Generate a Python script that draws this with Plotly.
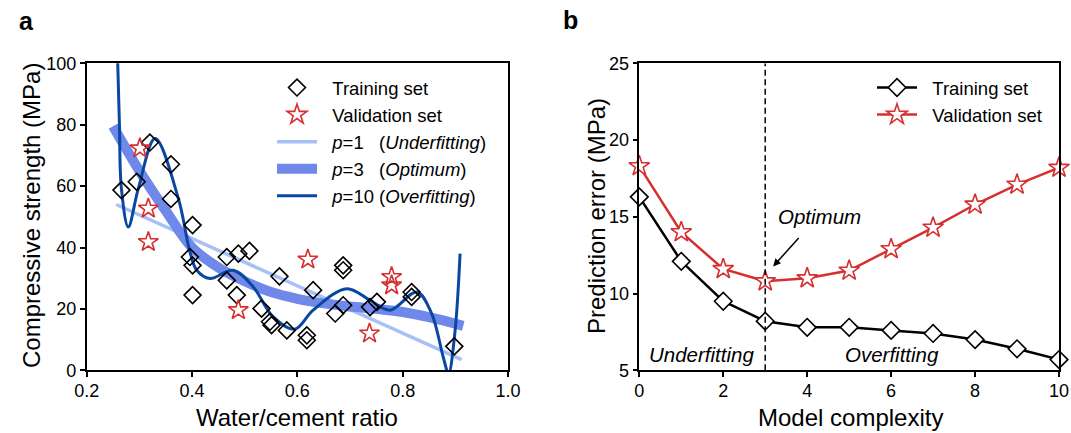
import plotly.graph_objects as go

# ---------------- Panel a data ----------------
train_x = [0.266, 0.295, 0.320, 0.360, 0.360, 0.401, 0.396, 0.401, 0.401, 0.466,
           0.488, 0.509, 0.466, 0.485, 0.532, 0.548, 0.551, 0.580, 0.566, 0.618,
           0.618, 0.630, 0.672, 0.687, 0.687, 0.687, 0.751, 0.738, 0.817, 0.817, 0.898]
train_y = [58.7, 61.4, 74.2, 67.1, 55.8, 47.3, 36.9, 34.2, 24.5, 36.9,
           38.0, 38.9, 29.3, 24.5, 20.1, 15.8, 14.7, 13.0, 30.6, 11.4,
           9.8, 26.1, 18.5, 21.2, 34.2, 32.6, 22.3, 20.6, 25.5, 23.9, 7.8]

val_x = [0.301, 0.317, 0.317, 0.488, 0.620, 0.779, 0.779, 0.737]
val_y = [72.3, 52.7, 41.8, 19.6, 36.1, 30.4, 27.7, 12.0]

p1_x = [0.256, 0.912]
p1_y = [54.0, 3.5]

p3_x = [0.25, 0.30, 0.35, 0.40, 0.45, 0.50, 0.55, 0.60, 0.65, 0.70, 0.75, 0.80, 0.85, 0.915]
p3_y = [79.5, 65.0, 52.0, 40.0, 33.5, 29.0, 25.5, 23.3, 21.8, 20.8, 20.0, 19.0, 17.3, 14.5]

p10_x = [0.257, 0.262, 0.266, 0.279, 0.298, 0.330, 0.374, 0.396, 0.409, 0.434,
         0.478, 0.516, 0.554, 0.595, 0.630, 0.694, 0.738, 0.776, 0.827, 0.855,
         0.877, 0.887, 0.899, 0.909]
p10_y = [112.0, 81.0, 59.0, 46.7, 59.2, 75.5, 56.0, 38.6, 32.6, 29.9,
         32.6, 27.2, 17.4, 13.4, 19.6, 26.6, 22.8, 19.6, 25.5, 18.5,
         4.3, -1.0, 12.0, 38.0]

# ---------------- Panel b data ----------------
complexity = [0, 1, 2, 3, 4, 5, 6, 7, 8, 9, 10]
train_err = [16.3, 12.1, 9.5, 8.2, 7.8, 7.8, 7.6, 7.4, 7.0, 6.4, 5.7]
val_err = [18.3, 14.0, 11.6, 10.8, 11.0, 11.5, 12.9, 14.3, 15.8, 17.1, 18.2]

FONT = "Arial, Liberation Sans, sans-serif"
RED = "#d62f2f"
NB = "\u00a0"
PAD = NB * 2

fig = go.Figure()

# Fit curves (panel a)
fig.add_trace(go.Scatter(x=p1_x, y=p1_y, mode="lines", line=dict(color="#a6c0f8", width=3.5),
                         name=PAD + "<i>p</i>=1" + NB * 3 + "(<i>Underfitting</i>)", legend="legend",
                         legendrank=3, xaxis="x", yaxis="y"))
fig.add_trace(go.Scatter(x=p3_x, y=p3_y, mode="lines", line=dict(color="#6f88ea", width=10, shape="spline"),
                         name=PAD + "<i>p</i>=3" + NB * 3 + "(<i>Optimum</i>)", legend="legend",
                         legendrank=4, xaxis="x", yaxis="y"))
fig.add_trace(go.Scatter(x=p10_x, y=p10_y, mode="lines", line=dict(color="#0a47a3", width=3, shape="spline"),
                         name=PAD + "<i>p</i>=10" + NB + "(<i>Overfitting</i>)", legend="legend",
                         legendrank=5, xaxis="x", yaxis="y"))
# Scatter (panel a)
fig.add_trace(go.Scatter(x=train_x, y=train_y, mode="markers",
                         marker=dict(symbol="diamond-open", size=13, color="black", line=dict(width=1.6)),
                         name=PAD + "Training set", legend="legend", legendrank=1, xaxis="x", yaxis="y"))
fig.add_trace(go.Scatter(x=val_x, y=val_y, mode="markers",
                         marker=dict(symbol="star-open", size=15, color=RED, line=dict(width=1.6)),
                         name=PAD + "Validation set", legend="legend", legendrank=2, xaxis="x", yaxis="y"))

# Panel b
fig.add_trace(go.Scatter(x=complexity, y=train_err, mode="lines+markers",
                         line=dict(color="black", width=2.5),
                         marker=dict(symbol="diamond", size=13.5, color="white",
                                     line=dict(color="black", width=1.6)),
                         name=PAD + "Training set", legend="legend2", xaxis="x2", yaxis="y2", cliponaxis=False))
fig.add_trace(go.Scatter(x=complexity, y=val_err, mode="lines+markers",
                         line=dict(color=RED, width=2.5),
                         marker=dict(symbol="star", size=15.5, color="white",
                                     line=dict(color=RED, width=1.6)),
                         name=PAD + "Validation set", legend="legend2", xaxis="x2", yaxis="y2", cliponaxis=False))

axis_common = dict(showline=True, linecolor="black", linewidth=1.5, mirror=True,
                   ticks="outside", ticklen=5, tickwidth=1.5, tickcolor="black",
                   showgrid=False, zeroline=False, automargin=False,
                   tickfont=dict(family=FONT, size=18, color="black"))

ydom = [1 - 370.3 / 433, 1 - 63.3 / 433]
fig.update_layout(
    width=1071, height=433, autosize=False,
    margin=dict(l=0, r=0, t=0, b=0, pad=0),
    paper_bgcolor="white", plot_bgcolor="white",
    font=dict(family=FONT, color="black"),
    xaxis=dict(domain=[86.7 / 1071, 508 / 1071], range=[0.2, 1.0], tickvals=[0.2, 0.4, 0.6, 0.8, 1.0],
               ticktext=["0.2", "0.4", "0.6", "0.8", "1.0"], anchor="y", ticklabelstandoff=-2, **axis_common),
    yaxis=dict(domain=ydom, range=[0, 100], tickvals=[0, 20, 40, 60, 80, 100], anchor="x", **axis_common),
    xaxis2=dict(domain=[639.3 / 1071, 1059 / 1071], range=[0, 10], tickvals=[0, 2, 4, 6, 8, 10],
                anchor="y2", ticklabelstandoff=-2, **axis_common),
    yaxis2=dict(domain=ydom, range=[5, 25], tickvals=[5, 10, 15, 20, 25], anchor="x2", **axis_common),
    legend=dict(x=272 / 1071, y=1 - 69 / 433, xanchor="left", yanchor="top",
                bgcolor="rgba(0,0,0,0)", borderwidth=0, font=dict(family=FONT, size=18.5, color="black"),
                traceorder="normal", itemwidth=40),
    legend2=dict(x=872 / 1071, y=1 - 69 / 433, xanchor="left", yanchor="top",
                 bgcolor="rgba(0,0,0,0)", borderwidth=0, font=dict(family=FONT, size=18.5, color="black"),
                 itemwidth=40),
    showlegend=True,
)

# Dashed optimum line
fig.add_shape(type="line", xref="x2", yref="y2", x0=3, x1=3, y0=5, y1=25,
              line=dict(color="black", width=1.5, dash="6px,3.5px"))

C = dict(xanchor="center", yanchor="middle", showarrow=False)
ann = []
# Arrow
ann.append(dict(xref="x2", yref="y2", x=3.19, y=11.77, ax=3.83, ay=13.72, axref="x2", ayref="y2",
                text="", showarrow=True, arrowhead=2, arrowsize=1, arrowwidth=1.5, arrowcolor="black"))
afont = dict(size=20.5, family=FONT, color="black")
ann.append(dict(xref="x2", yref="y2", x=4.3, y=15.0, text="<i>Optimum</i>", font=afont, **C))
ann.append(dict(xref="x2", yref="y2", x=1.47, y=6.05, text="<i>Underfitting</i>", font=afont, **C))
ann.append(dict(xref="x2", yref="y2", x=6.02, y=6.05, text="<i>Overfitting</i>", font=afont, **C))
# Axis titles
tfont = dict(size=24, family=FONT, color="black")
ann.append(dict(xref="paper", yref="paper", x=297 / 1071, y=1 - 417 / 433, text="Water/cement ratio",
                font=tfont, **C))
ann.append(dict(xref="paper", yref="paper", x=850 / 1071, y=1 - 417 / 433, text="Model complexity",
                font=tfont, **C))
ann.append(dict(xref="paper", yref="paper", x=31 / 1071, y=1 - 216 / 433, text="Compressive strength (MPa)",
                textangle=-90, font=tfont, **C))
ann.append(dict(xref="paper", yref="paper", x=596 / 1071, y=1 - 216 / 433, text="Prediction error (MPa)",
                textangle=-90, font=tfont, **C))
# Panel labels
ann.append(dict(xref="paper", yref="paper", x=26.7 / 1071, y=1 - 21 / 433, text="<b>a</b>",
                font=dict(size=25, family=FONT, color="black"), **C))
ann.append(dict(xref="paper", yref="paper", x=570.5 / 1071, y=1 - 20 / 433, text="<b>b</b>",
                font=dict(size=25, family=FONT, color="black"), **C))
fig.update_layout(annotations=ann)

fig.write_html("out.html")
